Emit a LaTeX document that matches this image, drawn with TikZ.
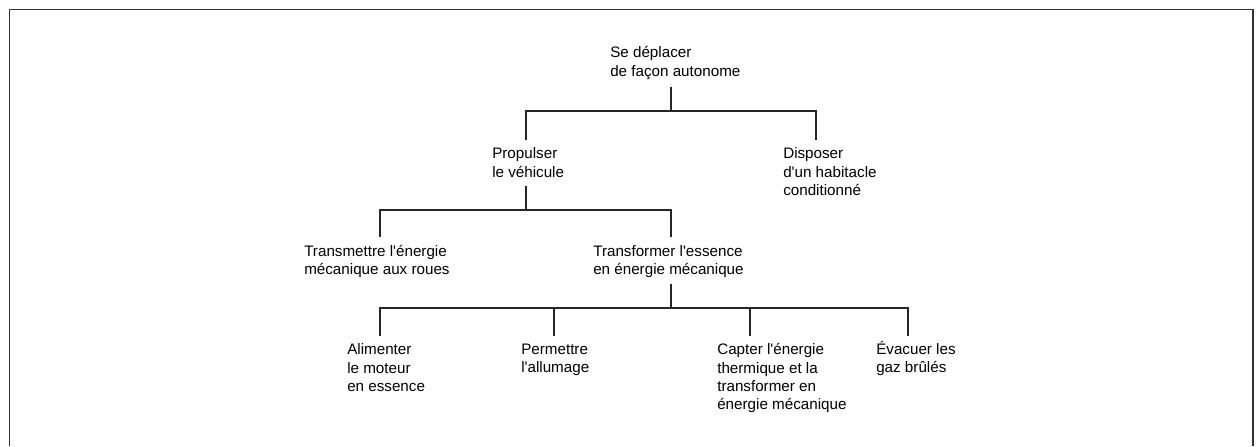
\documentclass[tikz,border=0pt]{standalone}
\usepackage{fontspec}
% plain family, so that ' stays a straight apostrophe
\newfontfamily\treefont{Liberation Sans}
\usetikzlibrary{calc}
\begin{document}
\begin{tikzpicture}[x=0.75pt,y=-0.75pt,
  label/.style={anchor=north west,inner sep=0pt,align=left,text=black,
    font=\treefont\fontsize{11.4}{13.7}\selectfont},
  link/.style={draw=black!85,line width=0.95pt},
  frame/.style={draw=black!80,line width=1.3pt}]
\useasboundingbox (0,0) rectangle (1259,446);
% open frame around the tree
\draw[frame] (9.5,446) -- (9.5,9.5) -- (1253,9.5) -- (1253,446);

% functions, level by level
\node[label] (top)  at (610,46.5)  {Se déplacer\\de façon autonome};
\node[label] (prop) at (492,147.5) {Propulser\\le véhicule};
\node[label] (disp) at (783,147.5) {Disposer\\d'un habitacle\\conditionné};
\node[label] (trm)  at (304,245)   {Transmettre l'énergie\\mécanique aux roues};
\node[label] (trf)  at (593,245)   {Transformer l'essence\\en énergie mécanique};
\node[label] (ali)  at (347,343.5) {Alimenter\\le moteur\\en essence};
\node[label] (perm) at (521,343.5) {Permettre\\l'allumage};
\node[label] (capt) at (717,343.5) {Capter l'énergie\\thermique et la\\transformer en\\énergie mécanique};
\node[label] (evac) at (876,341)   {Évacuer les\\gaz brûlés};

% junction points on the three buses
\coordinate (j1)  at (671,111);
\coordinate (b1a) at (526,111);
\coordinate (b1b) at (816,111);
\coordinate (j2)  at (526,210);
\coordinate (b2a) at (380,210);
\coordinate (b2b) at (671,210);
\coordinate (j3)  at (671,308);
\coordinate (b3a) at (380,308);
\coordinate (b3b) at (554,308);
\coordinate (b3c) at (750,308);
\coordinate (b3d) at (908,308);

% level 1
\draw[link] ($(j1 |- top.south)+(0,7)$) -- (j1);
\draw[link] ($(b1a |- prop.north)+(0,-8)$) -- (b1a) -- (b1b) -- ($(b1b |- disp.north)+(0,-8)$);
% level 2
\draw[link] ($(j2 |- prop.south)+(0,9)$) -- (j2);
\draw[link] ($(b2a |- trm.north)+(0,-8)$) -- (b2a) -- (b2b) -- ($(b2b |- trf.north)+(0,-8)$);
% level 3
\draw[link] ($(j3 |- trf.south)+(0,6)$) -- (j3);
\draw[link] ($(b3a |- ali.north)+(0,-8)$) -- (b3a) -- (b3d) -- ($(b3d |- evac.north)+(0,-5)$);
\draw[link] (b3b) -- ($(b3b |- perm.north)+(0,-8)$);
\draw[link] (b3c) -- ($(b3c |- capt.north)+(0,-8)$);
\end{tikzpicture}
\end{document}
